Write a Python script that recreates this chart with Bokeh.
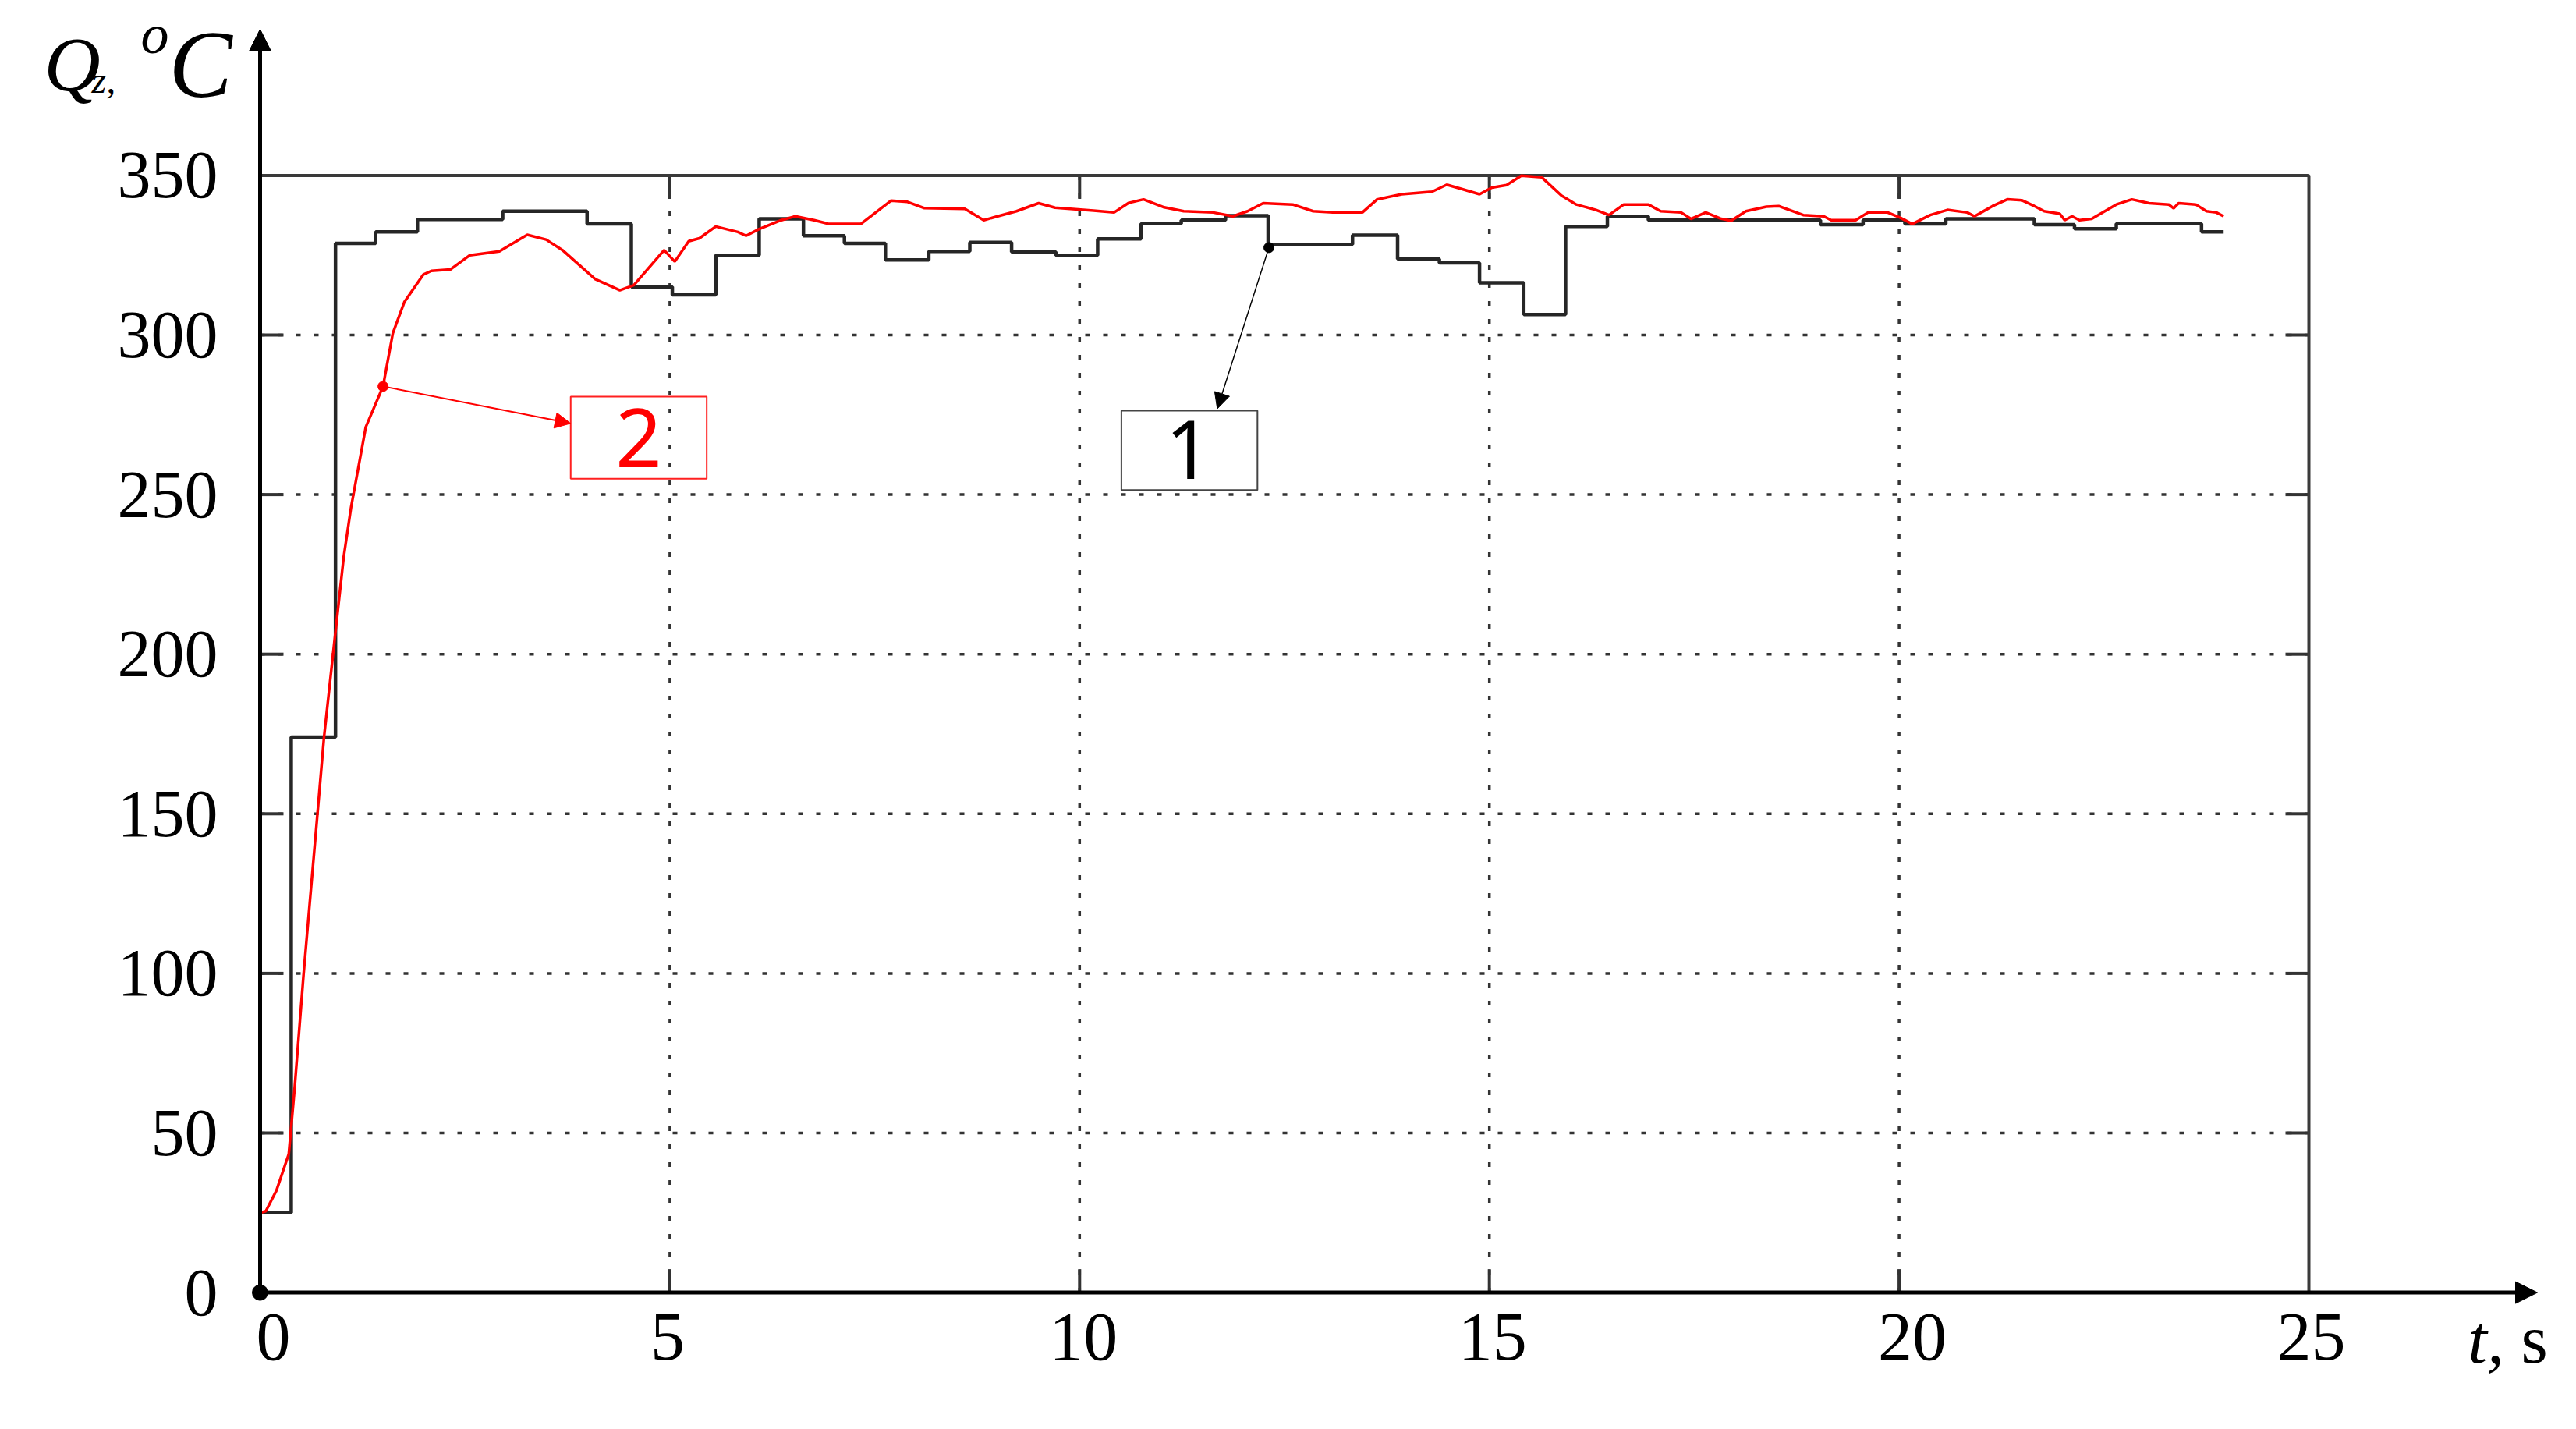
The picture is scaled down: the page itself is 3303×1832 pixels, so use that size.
from bokeh.plotting import figure
from bokeh.models import Range1d, Arrow, NormalHead
from bokeh.embed import file_html
from bokeh.resources import INLINE
from bokeh.core.properties import value

# ---------------- data ----------------
x_ticks = [0, 5, 10, 15, 20, 25]
y_ticks = [0, 50, 100, 150, 200, 250, 300, 350]
x_tick_labels = [str(v) for v in x_ticks]
y_tick_labels = [str(v) for v in y_ticks]

# curve 1 (black, stepwise)
t1 = [0.0, 0.38, 0.92, 1.41, 1.92, 2.96, 3.99, 4.53, 5.03, 5.56, 6.09, 6.63, 7.13,
      7.63, 8.16, 8.66, 9.17, 9.71, 10.22, 10.75, 11.24, 11.78, 12.30, 13.33, 13.88,
      14.39, 14.88, 15.42, 15.93, 16.44, 16.94, 19.04, 19.56, 20.07, 20.57, 21.65,
      22.14, 22.65, 23.69, 23.96]
q1 = [25.0, 174.0, 328.7, 332.3, 336.2, 338.8, 334.8, 315.1, 312.6, 325.0, 336.4,
      331.1, 328.7, 323.5, 326.2, 329.0, 326.0, 325.0, 330.1, 334.9, 336.0, 337.4,
      328.4, 331.3, 323.8, 322.6, 316.4, 306.4, 334.0, 337.2, 336.0, 334.6, 336.0,
      334.8, 336.4, 334.6, 333.3, 334.9, 332.3, 332.3]

# curve 2 (red)
t2 = [0.0, 0.07, 0.2, 0.35, 0.42, 0.53, 0.70, 0.78, 0.89, 1.02, 1.11, 1.29, 1.50,
      1.62, 1.76, 1.99, 2.09, 2.32, 2.56, 2.92, 3.26, 3.49, 3.69, 4.09, 4.39, 4.56,
      4.93, 5.06, 5.23, 5.36, 5.56, 5.83, 5.93, 6.09, 6.36, 6.53, 6.76, 6.93, 7.33,
      7.70, 7.90, 8.10, 8.60, 8.83, 9.00, 9.23, 9.50, 9.70, 10.17, 10.42, 10.60,
      10.78, 11.02, 11.27, 11.63, 11.87, 12.05, 12.24, 12.60, 12.85, 13.09, 13.45,
      13.63, 13.93, 14.30, 14.48, 14.67, 14.88, 15.03, 15.21, 15.39, 15.64, 15.88,
      16.06, 16.30, 16.46, 16.64, 16.94, 17.09, 17.34, 17.46, 17.64, 17.82, 17.95,
      18.13, 18.38, 18.53, 18.68, 18.83, 19.08, 19.17, 19.47, 19.62, 19.86, 20.01,
      20.16, 20.38, 20.59, 20.83, 20.92, 21.14, 21.32, 21.50, 21.65, 21.77, 21.96,
      22.02, 22.11, 22.20, 22.35, 22.65, 22.84, 23.05, 23.29, 23.35, 23.41, 23.62,
      23.75, 23.87, 23.96]
q2 = [25.0, 25.5, 32.0, 43.4, 63.6, 99.5, 150.0, 174.0, 200.0, 230.4, 246.0, 271.2,
      283.9, 300.6, 310.3, 318.9, 320.1, 320.5, 325.0, 326.2, 331.4, 329.9, 326.6,
      317.5, 314.0, 315.6, 326.6, 323.0, 329.4, 330.3, 334.0, 332.3, 331.1, 333.2,
      336.0, 337.2, 336.0, 334.9, 334.8, 342.1, 341.7, 339.8, 339.5, 336.0, 337.2,
      338.8, 341.3, 339.9, 339.0, 338.4, 341.4, 342.5, 340.1, 338.8, 338.4, 337.2,
      338.8, 341.3, 340.9, 338.8, 338.4, 338.4, 342.5, 344.1, 344.9, 347.1, 345.7,
      344.1, 346.2, 347.0, 349.9, 349.4, 343.7, 340.9, 339.2, 337.6, 340.9, 340.9,
      338.8, 338.4, 336.4, 338.4, 336.5, 335.8, 338.8, 340.2, 340.4, 339.0, 337.6,
      337.2, 336.0, 336.0, 338.4, 338.4, 336.8, 334.8, 337.6, 339.2, 338.4, 337.2,
      340.4, 342.5, 342.2, 340.4, 338.8, 338.0, 336.0, 337.2, 336.0, 336.4, 340.9,
      342.5, 341.3, 340.9, 339.7, 341.3, 340.9, 338.8, 338.4, 337.2]

# ---------------- geometry ----------------
X0_PX, X_PER = 333.0, 105.08     # page px of t=0, px per second
Y0_PX, Y_PER = 1656.6, 4.092     # page px of Q=0, px per degree
W, H = 3287, 1816
x_label_shift = [17, -3, 5, 4, 17, 3]   # small horizontal nudges (px) of x tick labels


def tx(px):
    return (px - X0_PX) / X_PER


def vy(py):
    return (Y0_PX - py) / Y_PER


p = figure(width=W, height=H, min_border=0,
           x_range=Range1d(tx(0), tx(W)), y_range=Range1d(vy(H), vy(0)),
           x_axis_type=None, y_axis_type=None,
           output_backend="svg", toolbar_location=None)
p.outline_line_color = None
p.grid.visible = False
p.background_fill_color = "white"
p.border_fill_color = "white"

FONT = "Liberation Serif"

xmin, xmax = x_ticks[0], x_ticks[-1]
ymin, ymax = y_ticks[0], y_ticks[-1]

# dotted grid inside the box
inner_x = x_ticks[1:-1]
inner_y = y_ticks[1:-1]
p.segment(x0=inner_x, y0=[ymin] * len(inner_x), x1=inner_x, y1=[ymax] * len(inner_x),
          line_color="#333333", line_width=3.5, line_dash="6 17")
p.segment(x0=[xmin] * len(inner_y), y0=inner_y, x1=[xmax] * len(inner_y), y1=inner_y,
          line_color="#333333", line_width=3.5, line_dash="6 17")

# inner ticks
TL = 30
dx, dy = TL / X_PER, TL / Y_PER
p.segment(x0=[xmin] * len(inner_y), y0=inner_y, x1=[xmin + dx] * len(inner_y), y1=inner_y,
          line_color="#333333", line_width=4)
p.segment(x0=[xmax - dx] * len(inner_y), y0=inner_y, x1=[xmax] * len(inner_y), y1=inner_y,
          line_color="#333333", line_width=4)
p.segment(x0=inner_x, y0=[ymin] * len(inner_x), x1=inner_x, y1=[ymin + dy] * len(inner_x),
          line_color="#333333", line_width=4)
p.segment(x0=inner_x, y0=[ymax - dy] * len(inner_x), x1=inner_x, y1=[ymax] * len(inner_x),
          line_color="#333333", line_width=4)

# box
p.quad(left=[xmin], right=[xmax], bottom=[ymin], top=[ymax], fill_color=None,
       line_color="#3a3a3a", line_width=4)

# tick labels
p.text(x=x_ticks, y=[vy(1713)] * len(x_ticks), text=x_tick_labels, x_offset=x_label_shift,
       text_color="black", text_font=value(FONT), text_font_size="88px",
       text_align="center", text_baseline="middle")
p.text(x=[tx(279)] * len(y_ticks), y=y_ticks, text=y_tick_labels, text_color="black",
       text_font=value(FONT), text_font_size="86px", text_align="right",
       text_baseline="middle")

# curves
p.step(t1, q1, mode="after", line_color="#262626", line_width=4.5)
p.line(t2, q2, line_color="#ff0000", line_width=3.5)

# axes with arrows
p.add_layout(Arrow(end=NormalHead(size=28, fill_color="black", line_color="black"),
                   x_start=0, y_start=0, x_end=tx(3253), y_end=0,
                   line_color="black", line_width=5))
p.add_layout(Arrow(end=NormalHead(size=28, fill_color="black", line_color="black"),
                   x_start=0, y_start=0, x_end=0, y_end=vy(37),
                   line_color="black", line_width=5))
p.scatter([0], [0], size=20, color="black")

# callouts
p.quad(left=[3.79], right=[5.45], bottom=[255.0], top=[280.7], fill_color=None,
       line_color="#ff2020", line_width=2)
p.text(x=[4.62], y=[267.8], text=["2"], text_color="#ff0000", text_font=value("Noto Sans"),
       text_font_size="104px", text_align="center", text_baseline="middle")
p.add_layout(Arrow(end=NormalHead(size=20, fill_color="#ff0000", line_color="#ff0000"),
                   x_start=1.50, y_start=283.9, x_end=3.79, y_end=272.3,
                   line_color="#ff0000", line_width=2))
p.scatter([1.50], [283.9], size=13, color="#ff0000")

p.quad(left=[10.51], right=[12.17], bottom=[251.4], top=[276.3], fill_color=None,
       line_color="#444444", line_width=2)
p.text(x=[11.33], y=[264.0], text=["1"], text_color="black", text_font=value("Noto Sans"),
       text_font_size="104px", text_align="center", text_baseline="middle")
p.add_layout(Arrow(end=NormalHead(size=20, fill_color="black", line_color="black"),
                   x_start=12.31, y_start=327.4, x_end=11.68, y_end=276.9,
                   line_color="black", line_width=1.5))
p.scatter([12.31], [327.4], size=13, color="black")


# axis titles (positions are vertical centres of the em box, in page px)
def lab(text, px, py, size, style="italic"):
    p.text(x=[tx(px)], y=[vy(py)], text=[text], text_font=value(FONT),
           text_font_style=style, text_font_size=size, text_color="black",
           text_align="left", text_baseline="middle")


lab("Q", 56, 82, "100px")
lab("z,", 117, 102, "48px")
lab("o", 180, 43, "72px")
lab("C", 216, 82, "122px")
lab("t,", 3164, 1717, "88px")
lab("s", 3232, 1717, "88px", "normal")

open("out.html", "w").write(file_html(p, INLINE))
